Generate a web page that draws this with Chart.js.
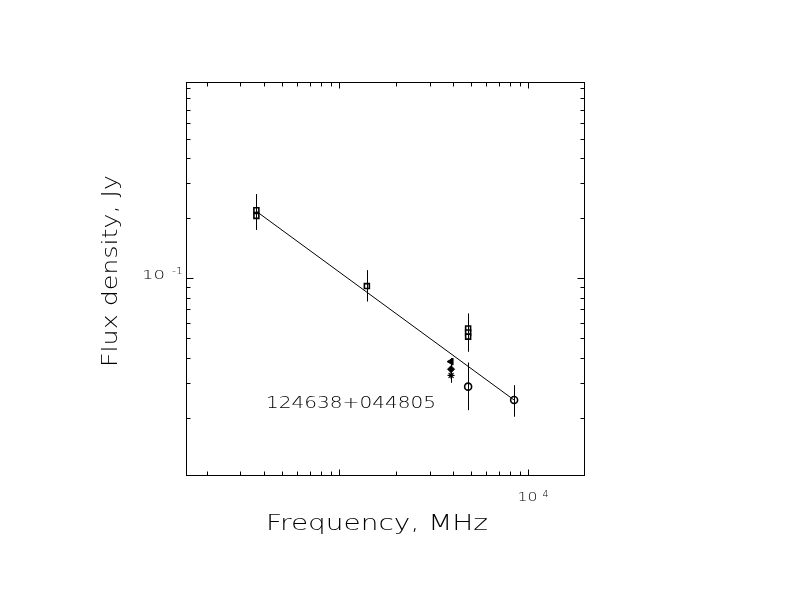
<!DOCTYPE html>
<html>
<head>
<meta charset="utf-8">
<script src="https://cdn.jsdelivr.net/npm/chart.js@4.4.1/dist/chart.umd.min.js"></script>
<style>
html,body{margin:0;padding:0;background:#fff;}
#wrap{width:792px;height:612px;}
</style>
</head>
<body>
<div id="wrap"><canvas id="c" width="792" height="612"></canvas></div>
<script>
// ---- data ----
const sqFreq   = [365, 365, 1400, 4800, 4800, 4800];
const sqFlux   = [0.220, 0.206, 0.0915, 0.0560, 0.0535, 0.0510];
const circFreq = [4800, 8400];
const circFlux = [0.0286, 0.0245];
const triFreq  = [3900];
const triFlux  = [0.0382];
const diaFreq  = [3900];
const diaFlux  = [0.0350];
const starFreq = [3900];
const starFlux = [0.0326];
const errFreq  = [365, 1400, 4800, 4800, 3900, 8400];
const errLow   = [0.175, 0.0765, 0.0428, 0.0218, 0.0299, 0.0202];
const errHigh  = [0.265, 0.110, 0.0667, 0.0378, 0.0398, 0.0291];
const fitFreq  = [365, 8400];
const fitFlux  = [0.217, 0.0245];
const xMajor = [1000, 10000];
const xMinor = [200,300,400,500,600,700,800,900,2000,3000,4000,5000,6000,7000,8000,9000];
const yMajor = [0.1];
const yMinor = [0.02,0.03,0.04,0.05,0.06,0.07,0.08,0.09,0.2,0.3,0.4,0.5,0.6,0.7,0.8,0.9];
const xLabelTick = {value: 10000, base: "10", exp: "4"};
const yLabelTick = {value: 0.1, base: "10", exp: "-1"};
const sourceName = "124638+044805";
const xTitle = "Frequency, MHz";
const yTitle = "Flux density, Jy";
const xRange = [155, 19660];
const yRange = [0.0103, 0.968];

const pts = (xs, ys) => xs.map((x, i) => ({x: x, y: ys[i]}));
const FONT = "'DejaVu Sans'";

function stretchText(ctx, text, x, y, w, size) {
  ctx.save();
  ctx.font = "300 " + size + "px " + FONT;
  const m = ctx.measureText(text).width;
  ctx.translate(x, y);
  ctx.scale(w / m, 1);
  ctx.fillText(text, 0, 0);
  ctx.restore();
}

const framePlugin = {
  id: 'frame',
  afterDraw(chart) {
    const ctx = chart.ctx, a = chart.chartArea;
    const xs = chart.scales.x, ys = chart.scales.y;
    ctx.save();
    ctx.strokeStyle = '#000';
    ctx.fillStyle = '#000';
    ctx.lineWidth = 1;
    const L = Math.round(a.left) + 0.5, R = Math.round(a.right) + 0.5;
    const T = Math.round(a.top) + 0.5, B = Math.round(a.bottom) + 0.5;
    ctx.strokeRect(L, T, R - L, B - T);
    ctx.beginPath();
    const xt = (v, len) => {
      const p = Math.round(xs.getPixelForValue(v)) + 0.5;
      ctx.moveTo(p, B); ctx.lineTo(p, B - len);
      ctx.moveTo(p, T); ctx.lineTo(p, T + len);
    };
    const yt = (v, len) => {
      const p = Math.round(ys.getPixelForValue(v)) + 0.5;
      ctx.moveTo(L, p); ctx.lineTo(L + len, p);
      ctx.moveTo(R, p); ctx.lineTo(R - len, p);
    };
    xMinor.forEach(v => xt(v, 4));
    xMajor.forEach(v => xt(v, 6));
    yMinor.forEach(v => yt(v, 4));
    yMajor.forEach(v => yt(v, 7));
    ctx.stroke();

    // error bars
    ctx.beginPath();
    errFreq.forEach((f, i) => {
      const px = Math.round(xs.getPixelForValue(f)) + 0.5;
      ctx.moveTo(px, ys.getPixelForValue(errHigh[i]));
      ctx.lineTo(px, ys.getPixelForValue(errLow[i]));
    });
    ctx.stroke();

    // tick labels
    ctx.textBaseline = 'alphabetic';
    const x4 = xs.getPixelForValue(xLabelTick.value);
    stretchText(ctx, xLabelTick.base, x4 - 11, 501, 20, 12.5);
    stretchText(ctx, xLabelTick.exp, x4 + 14, 497, 6, 8);
    const y1 = ys.getPixelForValue(yLabelTick.value);
    stretchText(ctx, yLabelTick.base, 142, y1 + 0.5, 23, 11.5);
    stretchText(ctx, yLabelTick.exp, 172, y1 - 4, 11, 8);

    // source name
    stretchText(ctx, sourceName, 266, 408, 170, 15);
    // axis titles
    stretchText(ctx, xTitle, 266, 530, 222, 22);
    ctx.save();
    ctx.translate(117, 367);
    ctx.rotate(-Math.PI / 2);
    stretchText(ctx, yTitle, 0, 0, 192, 22);
    ctx.restore();
    ctx.restore();
  }
};

const marker = {borderColor: '#000', borderWidth: 1, pointRadius: 3.5, pointHoverRadius: 3.5, showLine: false};

new Chart(document.getElementById('c'), {
  type: 'scatter',
  data: {
    datasets: [
      {data: pts(fitFreq, fitFlux), showLine: true, borderColor: '#000', borderWidth: 1, pointRadius: 0, fill: false},
      Object.assign({data: pts(sqFreq, sqFlux), pointStyle: 'rect', backgroundColor: '#fff', pointBorderWidth: 1.6}, marker),
      Object.assign({data: pts(circFreq, circFlux), pointStyle: 'circle', backgroundColor: '#fff', pointBorderWidth: 1.6}, marker),
      Object.assign({data: pts(triFreq, triFlux), pointStyle: 'triangle', pointRotation: -90, backgroundColor: '#000'}, marker, {pointRadius: 4}),
      Object.assign({data: pts(diaFreq, diaFlux), pointStyle: 'rectRot', backgroundColor: '#000'}, marker),
      Object.assign({data: pts(starFreq, starFlux), pointStyle: 'star', backgroundColor: '#000', pointBorderWidth: 1.2}, marker)
    ]
  },
  options: {
    responsive: false,
    animation: false,
    devicePixelRatio: 1,
    layout: {padding: {left: 186, right: 208, top: 82, bottom: 137}},
    plugins: {legend: {display: false}, tooltip: {enabled: false}},
    scales: {
      x: {type: 'logarithmic', min: xRange[0], max: xRange[1], display: false},
      y: {type: 'logarithmic', min: yRange[0], max: yRange[1], display: false}
    }
  },
  plugins: [framePlugin]
});
</script>
</body>
</html>
